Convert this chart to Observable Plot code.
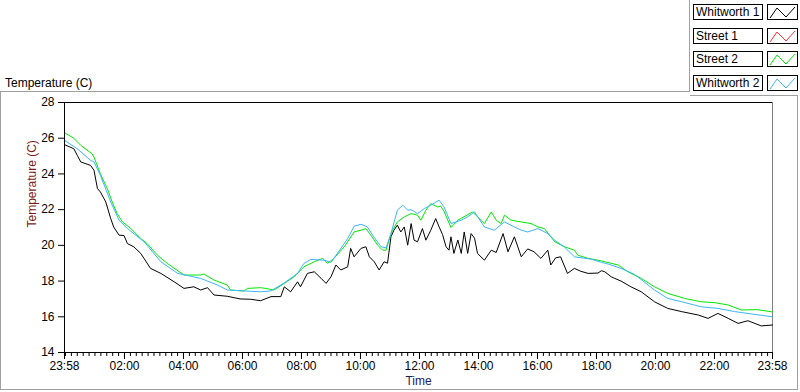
<!DOCTYPE html>
<html><head><meta charset="utf-8">
<script src="https://cdn.jsdelivr.net/npm/d3@7"></script>
<script src="https://cdn.jsdelivr.net/npm/@observablehq/plot@0.6"></script>
<style>
body{margin:0;background:#fff;font-family:"Liberation Sans",Arial,sans-serif;}
#wrap{position:relative;width:800px;height:392px;overflow:hidden;background:#fff;}
#chart{position:absolute;left:0;top:0;}
.ln{position:absolute;background:#a0a0a0;}
.title{position:absolute;left:5px;top:76px;font-size:12px;line-height:14px;color:#000;white-space:nowrap;}
.name{position:absolute;left:693px;width:66px;height:14px;border:1px solid #000;background:#fff;font-size:12px;line-height:14px;padding-left:2px;color:#000;white-space:nowrap;}
.sw{position:absolute;left:767px;width:29px;height:14px;border:1px solid #000;background:#fff;}
.sw svg{display:block;}
</style>
</head><body>
<div id="wrap">
  <div id="chart"></div>
  <div class="title">Temperature (C)</div>
  <div class="ln" style="left:0;top:91px;width:690px;height:1px"></div>
  <div class="ln" style="left:689px;top:0;width:1px;height:92px"></div>
  <div class="ln" style="left:690px;top:95px;width:108px;height:1px"></div>
  <div class="ln" style="left:797px;top:95px;width:1px;height:295px"></div>
  <div class="ln" style="left:0;top:91px;width:1px;height:299px"></div>
  <div class="ln" style="left:0;top:389px;width:798px;height:1px"></div>
  <div id="legend"></div>
</div>
<script>
// ---- data ----
const seriesNames = ["Whitworth 1", "Street 1", "Street 2", "Whitworth 2"];
const seriesColors = ["#000000", "#ff3030", "#00e800", "#3cb4ff"];
const yTickValues = [14, 16, 18, 20, 22, 24, 26, 28];
const xMajorLabels = ["23:58", "02:00", "04:00", "06:00", "08:00", "10:00", "12:00", "14:00", "16:00", "18:00", "20:00", "22:00", "23:58"];

const whitworth1 = [["23:58",25.64],["00:17",25.41],["00:24",25.04],["00:31",24.67],["00:51",24.48],["00:58",24.2],["01:05",23.18],["01:11",22.99],["01:22",22.43],["01:32",21.5],["01:38",21.03],["01:49",20.57],["01:59",20.55],["02:06",20.1],["02:19",19.92],["02:33",19.55],["02:53",18.71],["03:14",18.43],["03:41",17.96],["04:01",17.59],["04:21",17.68],["04:35",17.5],["04:49",17.63],["05:02",17.22],["05:29",17.15],["05:55",17.0],["06:17",16.98],["06:37",16.9],["06:58",17.13],["07:18",17.13],["07:25",17.68],["07:38",17.4],["07:52",17.96],["07:58",17.68],["08:12",18.43],["08:26",18.52],["08:40",18.15],["08:50",17.87],["09:00",18.24],["09:10",18.9],["09:20",18.62],["09:34",18.8],["09:40",19.83],["09:47",19.36],["10:01",19.83],["10:11",19.92],["10:18",19.36],["10:28",19.08],["10:38",18.62],["10:48",19.08],["10:55",19.0],["11:02",20.48],["11:08",20.85],["11:15",21.13],["11:22",20.75],["11:29",21.03],["11:36",20.01],["11:43",21.22],["11:49",20.29],["11:56",20.2],["12:06",20.94],["12:13",20.29],["12:23",20.85],["12:33",21.5],["12:40",21.03],["12:47",20.6],["12:54",19.92],["13:00",19.73],["13:04",20.48],["13:10",19.55],["13:18",20.3],["13:25",19.55],["13:31",20.75],["13:38",19.55],["13:45",20.66],["13:52",20.4],["13:58",19.55],["14:12",19.17],["14:26",19.73],["14:36",19.6],["14:50",20.66],["15:00",19.64],["15:13",20.48],["15:27",19.36],["15:40",19.8],["15:53",19.64],["16:07",19.27],["16:21",19.73],["16:27",18.9],["16:37",19.3],["16:47",19.36],["17:01",18.43],["17:15",18.71],["17:28",18.55],["17:43",18.43],["18:03",18.45],["18:10",18.58],["18:17",18.52],["18:30",18.24],["18:37",18.15],["18:50",18.0],["19:10",17.68],["19:31",17.4],["19:58",16.84],["20:25",16.47],["20:53",16.29],["21:27",16.1],["21:47",15.91],["22:07",16.19],["22:28",15.91],["22:48",15.63],["23:08",15.78],["23:35",15.49],["23:58",15.54]];

const street1 = [];

const street2 = [["23:58",26.31],["00:17",26.0],["00:31",25.6],["00:54",25.13],["00:58",24.94],["01:11",24.0],["01:25",23.18],["01:35",22.43],["01:45",21.78],["01:56",21.31],["02:13",20.94],["02:33",20.38],["02:46",20.1],["03:07",19.45],["03:27",18.99],["04:01",18.34],["04:35",18.34],["04:41",18.4],["05:02",18.06],["05:29",17.78],["05:36",17.5],["06:03",17.44],["06:10",17.59],["06:37",17.63],["06:47",17.59],["07:04",17.5],["07:25",17.87],["07:45",18.24],["08:05",18.8],["08:26",19.08],["08:43",19.27],["08:53",18.99],["09:06",19.27],["09:27",19.92],["09:47",20.75],["10:01",20.85],["10:11",20.94],["10:21",20.57],["10:35",20.01],["10:45",19.73],["10:52",19.73],["10:58",20.29],["11:05",20.85],["11:15",21.31],["11:29",21.59],["11:43",21.78],["11:56",21.69],["12:03",21.41],["12:13",21.97],["12:23",22.34],["12:37",22.15],["12:43",22.2],["12:50",21.9],["13:04",21.0],["13:18",21.41],["13:48",21.87],["14:12",21.22],["14:26",21.87],["14:36",21.41],["14:46",21.22],["14:53",21.69],["15:06",21.41],["15:27",21.31],["15:47",21.22],["16:01",21.03],["16:14",20.94],["16:35",20.2],["16:55",19.92],["17:15",19.73],["17:22",19.45],["17:43",19.27],["18:10",19.13],["18:44",18.9],["19:04",18.52],["19:31",18.15],["19:58",17.68],["20:25",17.31],["20:59",17.03],["21:33",16.84],["22:01",16.79],["22:28",16.66],["22:55",16.38],["23:27",16.4],["23:58",16.27]];

const whitworth2 = [["23:58",25.88],["00:24",25.41],["00:51",24.76],["00:58",24.67],["01:11",23.92],["01:32",22.43],["01:49",21.41],["02:06",20.94],["02:40",20.2],["03:14",19.08],["03:48",18.43],["04:35",18.15],["05:09",17.78],["05:29",17.5],["06:37",17.4],["06:58",17.45],["07:25",17.9],["07:52",18.43],["08:05",18.99],["08:19",19.21],["08:46",19.17],["09:00",19.05],["09:13",19.55],["09:34",20.38],["09:47",21.07],["10:01",21.18],["10:14",21.03],["10:28",20.44],["10:42",19.92],["10:52",19.86],["11:02",20.66],["11:15",21.97],["11:26",22.25],["11:36",21.97],["11:43",22.0],["11:56",21.78],["12:10",22.06],["12:23",22.25],["12:40",22.53],["12:50",22.15],["13:04",21.22],["13:25",21.41],["13:38",21.6],["13:52",21.87],["14:12",21.03],["14:32",20.85],["14:53",21.31],["15:13",21.03],["15:27",20.85],["15:40",20.75],["16:01",20.94],["16:21",20.66],["16:35",20.29],["16:55",19.9],["17:15",19.36],["17:49",19.23],["18:10",19.05],["18:24",18.95],["18:50",18.71],["19:17",18.38],["19:58",17.5],["20:25",17.03],["20:53",16.84],["21:33",16.56],["22:07",16.47],["22:41",16.29],["23:15",16.16],["23:58",16.0]];

// ---- build ----
const base = Date.UTC(2000, 0, 2);
function toDate(s, i, isEnd) {
  const [h, m] = s.split(":").map(Number);
  let min = h * 60 + m;
  if (i === 0 && !isEnd && min > 720) min -= 1440;
  return new Date(base + min * 60000);
}
function rows(arr, name) {
  return arr.map(([t, v], i) => ({time: toDate(t, i, false), temp: v, series: name}));
}
const allSeries = [whitworth1, street1, street2, whitworth2];
const data = allSeries.map((arr, k) => rows(arr, seriesNames[k]));

const t0 = toDate(xMajorLabels[0], 0, false);
const t1 = toDate(xMajorLabels[xMajorLabels.length - 1], 1, true);
const majorTicks = xMajorLabels.map((s, i) => toDate(s, i, i === xMajorLabels.length - 1));
const minorTicks = d3.utcMinute.every(12).range(new Date(base), t1);
const fmt = d3.utcFormat("%H:%M");

const chart = Plot.plot({
  width: 800,
  height: 392,
  marginLeft: 64,
  marginRight: 28,
  marginTop: 102,
  marginBottom: 40,
  style: {fontFamily: "'Liberation Sans', Arial, sans-serif", fontSize: "12px", background: "transparent", color: "#000", overflow: "visible"},
  x: {type: "utc", domain: [t0, t1]},
  y: {domain: [14, 28]},
  marks: [
    Plot.ruleY([28], {stroke: "#000"}),
    Plot.ruleX([t1], {stroke: "#808080"}),
    Plot.axisY({ticks: yTickValues, tickSize: 6, tickPadding: 4, label: null, tickFormat: d => d}),
    Plot.axisX({ticks: minorTicks, tickSize: 4, fill: "none", label: null}),
    Plot.axisX({ticks: majorTicks, tickSize: 7, tickPadding: 2, tickFormat: fmt, label: null}),
    Plot.text(["Temperature (C)"], {text: d => d, frameAnchor: "left", rotate: -90, dx: -32, fill: "#7a1a1a", fontSize: 12}),
    Plot.text(["Time"], {text: d => d, frameAnchor: "bottom", dy: 32, fill: "#20205a", fontSize: 12}),
    ...data.map((rowsK, k) => Plot.line(rowsK, {x: "time", y: "temp", stroke: seriesColors[k], strokeWidth: 1})),
    Plot.ruleX([t0], {stroke: "#000"}),
    Plot.ruleY([14], {stroke: "#000"})
  ]
});
document.getElementById("chart").append(chart);

// legend
const legendTops = [4, 28, 51, 75];
const leg = document.getElementById("legend");
seriesNames.forEach((name, k) => {
  const n = document.createElement("div");
  n.className = "name";
  n.style.top = legendTops[k] + "px";
  n.textContent = name;
  leg.append(n);
  const sw = document.createElement("div");
  sw.className = "sw";
  sw.style.top = legendTops[k] + "px";
  sw.innerHTML = `<svg width="29" height="14"><polyline points="2,13 9,3 18,12 27,2" fill="none" stroke="${seriesColors[k]}" stroke-width="1"/></svg>`;
  leg.append(sw);
});
</script>
</body></html>
